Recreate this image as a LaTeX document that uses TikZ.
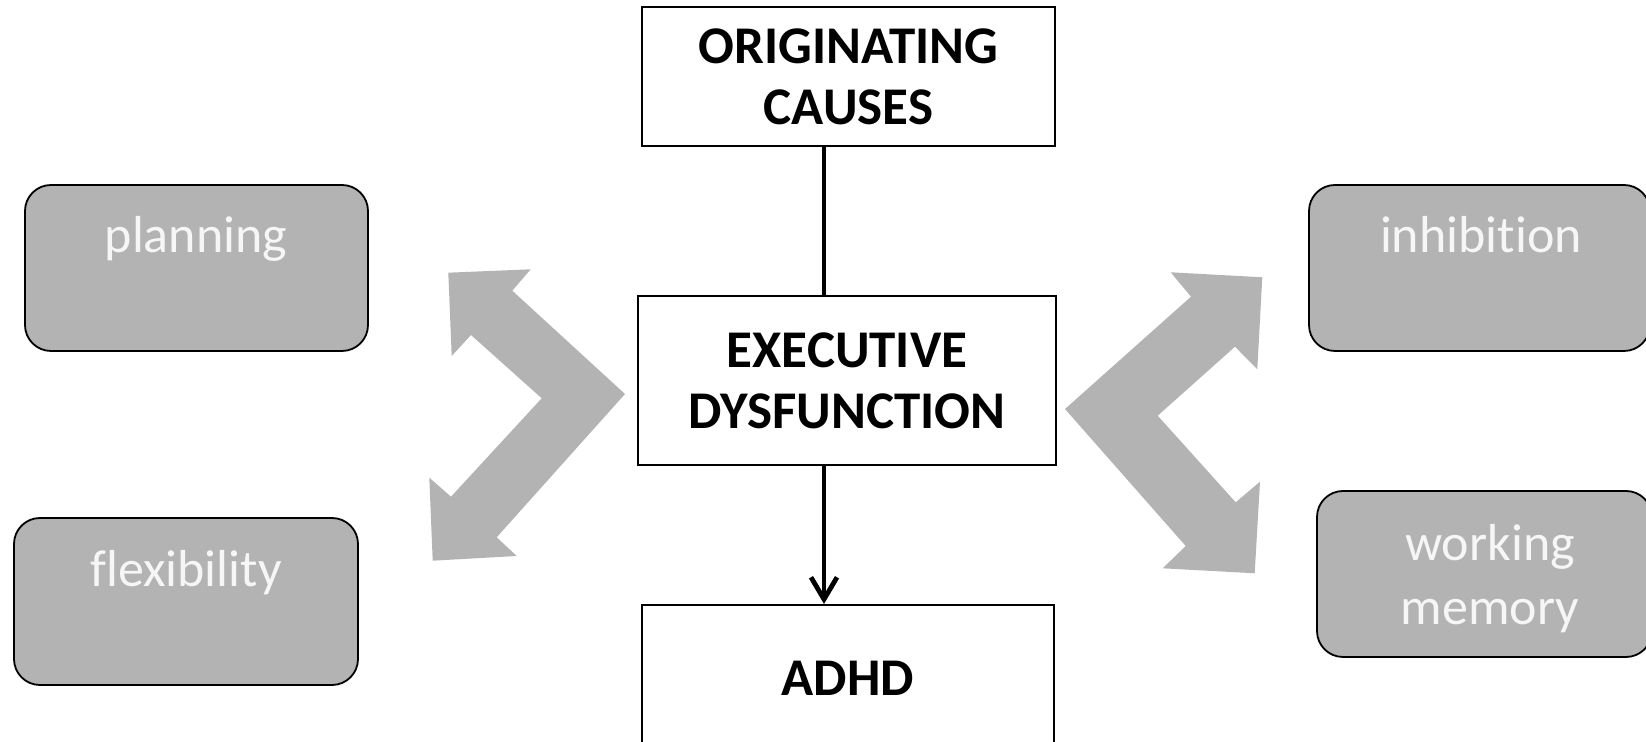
\documentclass[tikz,border=0pt]{standalone}
\usepackage{fontspec}
\setmainfont{Carlito}[Ligatures={NoCommon,NoDiscretionary,NoRare}]
\usetikzlibrary{arrows.meta}
\definecolor{boxgray}{HTML}{B3B3B3}
\definecolor{txtwhite}{HTML}{F6F6F6}
\begin{document}
\begin{tikzpicture}[x=0.5pt,y=-0.5pt,
  graybox/.style={draw=black, line width=0.9pt, fill=boxgray, rounded corners=13pt, inner sep=0pt},
  graytext/.style={text=txtwhite, font=\fontsize{26}{32}\selectfont, anchor=base, inner sep=0pt, align=center},
  mainbox/.style={draw=black, line width=1pt, fill=white, inner sep=0pt, align=center, font=\fontsize{26.5}{30.5}\selectfont\bfseries},
  conn/.style={draw=black, line width=2.4pt},
  chev/.style={fill=boxgray, draw=none}]
\useasboundingbox (0,0) rectangle (1646,742);
\clip (0,0) rectangle (1646,742);

% chevron double arrows
\fill[chev] (448.3,272.7) -- (530.7,269.3) -- (512.3,290.7) -- (625,394) -- (496.7,537.3)
  -- (516.7,556) -- (432.7,560.7) -- (429.3,477.7) -- (451,496.7) -- (541.7,398.3)
  -- (471,335) -- (451.7,356) -- cycle;
\fill[chev] (1262.3,277.3) -- (1257.3,369.3) -- (1235,346.7) -- (1157.7,415.7) -- (1235.7,502.3)
  -- (1260,481.7) -- (1254.7,573.3) -- (1162.7,568.3) -- (1185.7,546) -- (1065,409)
  -- (1191,296.7) -- (1170.7,272.3) -- cycle;

% gray boxes
\node[graybox, minimum width=171.5pt, minimum height=83pt] (plan) at (196.5,268) {};
\node[graytext] (plantxt) at (196,253) {planning};
\node[graybox, minimum width=172pt, minimum height=83.5pt] (flex) at (186,601.5) {};
\node[graytext] (flextxt) at (186,587) {flexibility};
\node[graybox, minimum width=170.5pt, minimum height=83pt] (inhib) at (1479.5,268) {};
\node[graytext] (inhibtxt) at (1481,253) {inhibition};
\node[graybox, minimum width=167.5pt, minimum height=83pt] (wm) at (1484.5,574) {};
\node[graytext] (wmtxt) at (1490,625) {working\\memory};

% main boxes
\node[mainbox, minimum width=206.5pt, minimum height=69.5pt] (orig) at (848.5,76.5) {ORIGINATING\\CAUSES};
\node[mainbox, minimum width=209pt, minimum height=84.5pt] (exec) at (847,380.5) {EXECUTIVE\\DYSFUNCTION};
\node[mainbox, minimum width=206pt, minimum height=100pt] (adhd) at (848,705) {};
\node[font=\fontsize{26.5}{30.5}\selectfont\bfseries, anchor=base, inner sep=0pt] (adhdtxt) at (848,696) {ADHD};

% connectors
\coordinate (cx) at (824,0);
\draw[conn] (orig.south -| cx) -- (exec.north -| cx);
\draw[conn, -{Straight Barb[length=11pt, width=13pt]}] (exec.south -| cx) -- (adhd.north -| cx);
\end{tikzpicture}
\end{document}
